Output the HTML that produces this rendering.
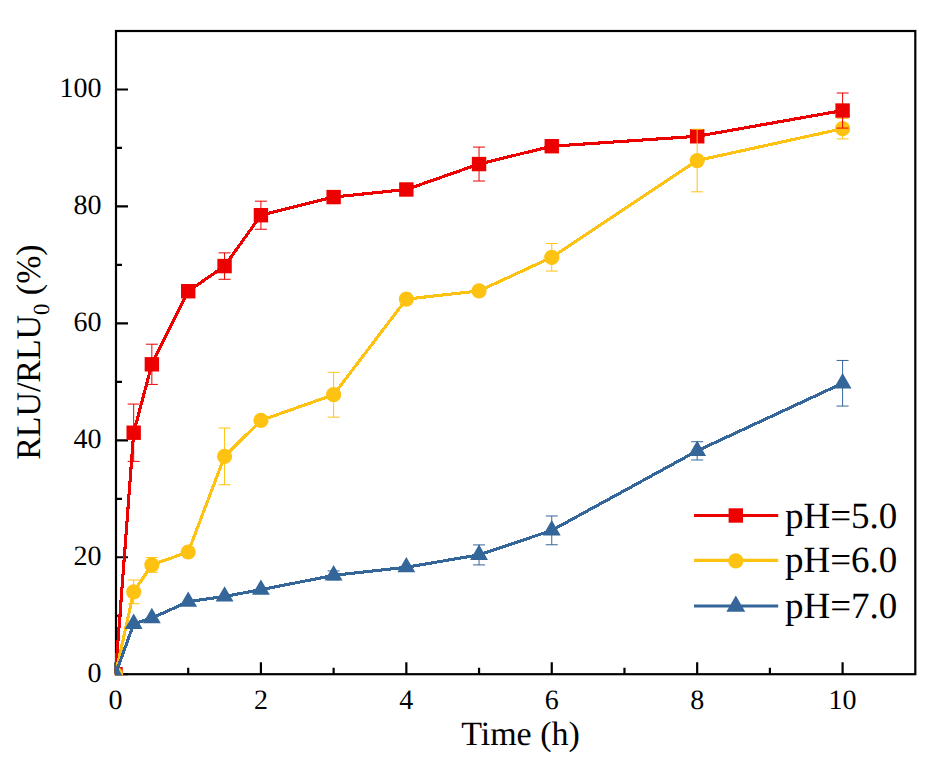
<!DOCTYPE html><html><head><meta charset="utf-8"><style>html,body{margin:0;padding:0;background:#fff;}svg{display:block;}text{font-family:"Liberation Serif",serif;fill:#000;text-rendering:geometricPrecision;}</style></head><body>
<svg width="936" height="768" viewBox="0 0 936 768">
<rect x="0" y="0" width="936" height="768" fill="#fff"/>
<defs><clipPath id="c"><rect x="114.9" y="29.9" width="801.6" height="645.5"/></clipPath></defs>
<rect x="116" y="31" width="799.3" height="643.2" fill="none" stroke="#000" stroke-width="2.2"/>
<path d="M115.50 674.2V662.20M188.21 674.2V667.70M260.92 674.2V662.20M333.63 674.2V667.70M406.34 674.2V662.20M479.05 674.2V667.70M551.76 674.2V662.20M624.47 674.2V667.70M697.18 674.2V662.20M769.89 674.2V667.70M842.60 674.2V662.20M116 674.20H128.00M116 615.73H122.00M116 557.26H128.00M116 498.79H122.00M116 440.32H128.00M116 381.85H122.00M116 323.38H128.00M116 264.91H122.00M116 206.44H128.00M116 147.97H122.00M116 89.50H128.00" stroke="#000" stroke-width="2.2" fill="none"/>
<g clip-path="url(#c)">
<polyline points="115.50,674.20 133.68,432.72 151.85,364.31 188.21,291.22 224.56,266.08 260.92,215.21 333.63,197.08 406.34,189.48 479.05,164.05 551.76,146.22 697.18,136.28 842.60,110.55" fill="none" stroke="#EC0000" stroke-width="3.1" stroke-linejoin="round" shape-rendering="crispEdges"/>
<rect x="108.30" y="667.00" width="14.4" height="14.4" fill="#EC0000"/>
<rect x="126.48" y="425.52" width="14.4" height="14.4" fill="#EC0000"/>
<rect x="144.66" y="357.11" width="14.4" height="14.4" fill="#EC0000"/>
<rect x="181.01" y="284.02" width="14.4" height="14.4" fill="#EC0000"/>
<rect x="217.37" y="258.88" width="14.4" height="14.4" fill="#EC0000"/>
<rect x="253.72" y="208.01" width="14.4" height="14.4" fill="#EC0000"/>
<rect x="326.43" y="189.88" width="14.4" height="14.4" fill="#EC0000"/>
<rect x="399.14" y="182.28" width="14.4" height="14.4" fill="#EC0000"/>
<rect x="471.85" y="156.85" width="14.4" height="14.4" fill="#EC0000"/>
<rect x="544.56" y="139.02" width="14.4" height="14.4" fill="#EC0000"/>
<rect x="689.98" y="129.08" width="14.4" height="14.4" fill="#EC0000"/>
<rect x="835.40" y="103.35" width="14.4" height="14.4" fill="#EC0000"/>
<polyline points="115.50,674.20 133.68,591.87 151.85,564.86 188.21,552.00 224.56,456.40 260.92,420.44 333.63,394.71 406.34,299.11 479.05,290.93 551.76,257.31 697.18,160.54 842.60,128.67" fill="none" stroke="#FEC312" stroke-width="3.1" stroke-linejoin="round" shape-rendering="crispEdges"/>
<circle cx="115.50" cy="674.20" r="7.6" fill="#FEC312"/>
<circle cx="133.68" cy="591.87" r="7.6" fill="#FEC312"/>
<circle cx="151.85" cy="564.86" r="7.6" fill="#FEC312"/>
<circle cx="188.21" cy="552.00" r="7.6" fill="#FEC312"/>
<circle cx="224.56" cy="456.40" r="7.6" fill="#FEC312"/>
<circle cx="260.92" cy="420.44" r="7.6" fill="#FEC312"/>
<circle cx="333.63" cy="394.71" r="7.6" fill="#FEC312"/>
<circle cx="406.34" cy="299.11" r="7.6" fill="#FEC312"/>
<circle cx="479.05" cy="290.93" r="7.6" fill="#FEC312"/>
<circle cx="551.76" cy="257.31" r="7.6" fill="#FEC312"/>
<circle cx="697.18" cy="160.54" r="7.6" fill="#FEC312"/>
<circle cx="842.60" cy="128.67" r="7.6" fill="#FEC312"/>
<polyline points="115.50,674.20 133.68,623.92 151.85,618.07 188.21,601.70 224.56,596.43 260.92,589.71 333.63,575.39 406.34,567.20 479.05,554.92 551.76,530.36 697.18,450.84 842.60,383.25" fill="none" stroke="#346699" stroke-width="3.1" stroke-linejoin="round" shape-rendering="crispEdges"/>
<polygon points="115.50,663.90 124.42,679.35 106.58,679.35" fill="#346699"/>
<polygon points="133.68,613.62 142.60,629.07 124.76,629.07" fill="#346699"/>
<polygon points="151.85,607.77 160.78,623.22 142.93,623.22" fill="#346699"/>
<polygon points="188.21,591.40 197.13,606.85 179.29,606.85" fill="#346699"/>
<polygon points="224.56,586.13 233.49,601.58 215.64,601.58" fill="#346699"/>
<polygon points="260.92,579.41 269.84,594.86 252.00,594.86" fill="#346699"/>
<polygon points="333.63,565.09 342.55,580.54 324.71,580.54" fill="#346699"/>
<polygon points="406.34,556.90 415.26,572.35 397.42,572.35" fill="#346699"/>
<polygon points="479.05,544.62 487.97,560.07 470.13,560.07" fill="#346699"/>
<polygon points="551.76,520.06 560.68,535.51 542.84,535.51" fill="#346699"/>
<polygon points="697.18,440.54 706.10,455.99 688.26,455.99" fill="#346699"/>
<polygon points="842.60,372.95 851.52,388.40 833.68,388.40" fill="#346699"/>
<path d="M333.63 570.88V579.89M327.63 570.88H339.63M327.63 579.89H339.63" stroke="#346699" stroke-width="1.0" fill="none"/>
<path d="M479.05 544.92V564.92M473.05 544.92H485.05M473.05 564.92H485.05" stroke="#346699" stroke-width="1.0" fill="none"/>
<path d="M551.76 515.98V544.75M545.76 515.98H557.76M545.76 544.75H557.76" stroke="#346699" stroke-width="1.0" fill="none"/>
<path d="M697.18 441.72V459.97M691.18 441.72H703.18M691.18 459.97H703.18" stroke="#346699" stroke-width="1.0" fill="none"/>
<path d="M842.60 360.45V406.06M836.60 360.45H848.60M836.60 406.06H848.60" stroke="#346699" stroke-width="1.0" fill="none"/>
<path d="M133.68 580.00V603.74M127.68 580.00H139.68M127.68 603.74H139.68" stroke="#FEC312" stroke-width="1.0" fill="none"/>
<path d="M151.85 557.44V572.29M145.85 557.44H157.85M145.85 572.29H157.85" stroke="#FEC312" stroke-width="1.0" fill="none"/>
<path d="M224.56 428.04V484.76M218.56 428.04H230.56M218.56 484.76H230.56" stroke="#FEC312" stroke-width="1.0" fill="none"/>
<path d="M333.63 372.32V417.11M327.63 372.32H339.63M327.63 417.11H339.63" stroke="#FEC312" stroke-width="1.0" fill="none"/>
<path d="M551.76 243.57V271.05M545.76 243.57H557.76M545.76 271.05H557.76" stroke="#FEC312" stroke-width="1.0" fill="none"/>
<path d="M697.18 129.26V191.82M691.18 129.26H703.18M691.18 191.82H703.18" stroke="#FEC312" stroke-width="1.0" fill="none"/>
<path d="M842.60 118.44V138.91M836.60 118.44H848.60M836.60 138.91H848.60" stroke="#FEC312" stroke-width="1.0" fill="none"/>
<path d="M133.68 404.07V461.37M127.68 404.07H139.68M127.68 461.37H139.68" stroke="#EC0000" stroke-width="1.0" fill="none"/>
<path d="M151.85 344.20V384.42M145.85 344.20H157.85M145.85 384.42H157.85" stroke="#EC0000" stroke-width="1.0" fill="none"/>
<path d="M224.56 252.87V279.29M218.56 252.87H230.56M218.56 279.29H230.56" stroke="#EC0000" stroke-width="1.0" fill="none"/>
<path d="M260.92 201.18V229.24M254.92 201.18H266.92M254.92 229.24H266.92" stroke="#EC0000" stroke-width="1.0" fill="none"/>
<path d="M479.05 147.09V181.01M473.05 147.09H485.05M473.05 181.01H485.05" stroke="#EC0000" stroke-width="1.0" fill="none"/>
<path d="M842.60 93.01V128.09M836.60 93.01H848.60M836.60 128.09H848.60" stroke="#EC0000" stroke-width="1.0" fill="none"/>
</g>
<text x="115.50" y="708.5" font-size="28" text-anchor="middle">0</text>
<text x="260.92" y="708.5" font-size="28" text-anchor="middle">2</text>
<text x="406.34" y="708.5" font-size="28" text-anchor="middle">4</text>
<text x="551.76" y="708.5" font-size="28" text-anchor="middle">6</text>
<text x="697.18" y="708.5" font-size="28" text-anchor="middle">8</text>
<text x="842.60" y="708.5" font-size="28" text-anchor="middle">10</text>
<text x="101.5" y="681.80" font-size="28" text-anchor="end">0</text>
<text x="101.5" y="564.86" font-size="28" text-anchor="end">20</text>
<text x="101.5" y="447.92" font-size="28" text-anchor="end">40</text>
<text x="101.5" y="330.98" font-size="28" text-anchor="end">60</text>
<text x="101.5" y="214.04" font-size="28" text-anchor="end">80</text>
<text x="101.5" y="97.10" font-size="28" text-anchor="end">100</text>
<text x="520.5" y="744.6" font-size="34" text-anchor="middle">Time (h)</text>
<text transform="translate(39.5,352.1) rotate(-90) scale(0.982,1)" font-size="34.5" text-anchor="middle">RLU/RLU<tspan font-size="23" dy="9">0</tspan><tspan dy="-9"> (%)</tspan></text>
<line x1="694" y1="515.5" x2="778.2" y2="515.5" stroke="#EC0000" stroke-width="3.1"/>
<rect x="728.60" y="508.30" width="14.4" height="14.4" fill="#EC0000"/>
<text x="785" y="527.8" font-size="37">pH=5.0</text>
<line x1="694" y1="560.4" x2="778.2" y2="560.4" stroke="#FEC312" stroke-width="3.1"/>
<circle cx="735.8" cy="560.9" r="7.6" fill="#FEC312"/>
<text x="785" y="572.4" font-size="37">pH=6.0</text>
<line x1="694" y1="606.0" x2="778.2" y2="606.0" stroke="#346699" stroke-width="3.1"/>
<polygon points="735.80,595.50 745.24,611.85 726.36,611.85" fill="#346699"/>
<text x="785" y="617.8" font-size="37">pH=7.0</text>
</svg></body></html>
